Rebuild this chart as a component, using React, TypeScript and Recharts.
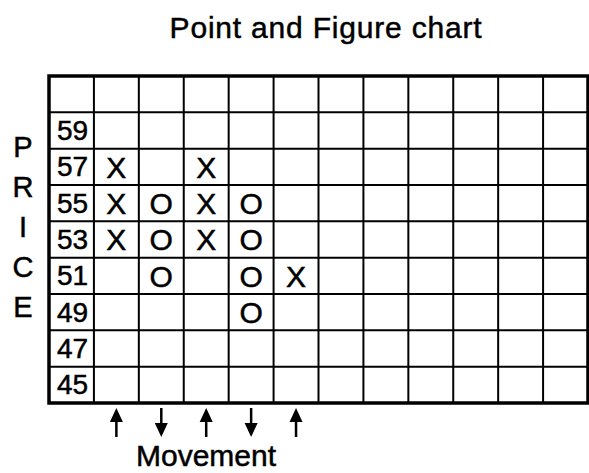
import React from 'react';
import {
  ComposedChart,
  XAxis,
  YAxis,
  CartesianGrid,
  Scatter,
  ReferenceArea,
} from 'recharts';

// ---- data ----
const columnIndex = [1, 2, 3, 4, 5];
const columnMarks = ['X', 'O', 'X', 'O', 'X'];
const columnPrices = [
  [57, 55, 53],
  [55, 53, 51],
  [57, 55, 53],
  [55, 53, 51, 49],
  [51],
];
const movements = ['up', 'down', 'up', 'down', 'up'];
const priceLabels = [59, 57, 55, 53, 51, 49, 47, 45];
const axisLetters = ['P', 'R', 'I', 'C', 'E'];
const gridColumns = [0, 1, 2, 3, 4, 5, 6, 7, 8, 9, 10, 11, 12];
const gridRows = [44, 46, 48, 50, 52, 54, 56, 58, 60, 62];

const markData = columnIndex.flatMap((c, i) =>
  columnPrices[i].map((p) => ({ x: c + 0.5, y: p, mark: columnMarks[i] }))
);
const labelData = priceLabels.map((p) => ({ x: 0.5, y: p, mark: String(p) }));
const arrowData = columnIndex.map((c, i) => ({ x: c + 0.5, y: 0, dir: movements[i] }));

const FONT = '"Liberation Sans", Arial, Helvetica, sans-serif';
const INK = { fill: '#000', stroke: '#000', strokeWidth: 0.5 };

const MarkShape = (props: any) => {
  const { cx, cy, payload } = props;
  return (
    <text x={cx} y={cy + 10.7} textAnchor="middle" fontSize={30} fontFamily={FONT} {...INK}>
      {payload.mark}
    </text>
  );
};

const LabelShape = (props: any) => {
  const { cx, cy, payload } = props;
  return (
    <text x={cx + 1} y={cy + 9.5} textAnchor="middle" fontSize={28} fontFamily={FONT} {...INK}>
      {payload.mark}
    </text>
  );
};

const ArrowShape = (props: any) => {
  const { cx: x, cy: y, payload } = props;
  const hw = 6.5;
  if (payload.dir === 'up') {
    return (
      <g>
        <line x1={x} y1={y + 16} x2={x} y2={y + 34} stroke="#000" strokeWidth={2.5} />
        <polygon points={`${x},${y + 5} ${x - hw},${y + 19} ${x + hw},${y + 19}`} fill="#000" />
      </g>
    );
  }
  return (
    <g>
      <line x1={x} y1={y + 5} x2={x} y2={y + 23} stroke="#000" strokeWidth={2.5} />
      <polygon points={`${x},${y + 34} ${x - hw},${y + 20} ${x + hw},${y + 20}`} fill="#000" />
    </g>
  );
};

export default function App() {
  return (
    <div style={{ position: 'absolute', left: 0, top: 0, background: '#fff' }}>
      <ComposedChart width={589} height={473} margin={{ top: 76, right: 1, bottom: 70, left: 49 }}>
        <XAxis
          xAxisId="grid"
          dataKey="x"
          type="number"
          domain={[0, 12]}
          ticks={gridColumns}
          allowDataOverflow
          hide
          height={0}
        />
        <XAxis xAxisId="arrowX" dataKey="x" type="number" domain={[0, 12]} hide height={0} />
        <YAxis
          yAxisId="grid"
          dataKey="y"
          type="number"
          domain={[44, 62]}
          ticks={gridRows}
          allowDataOverflow
          hide
          width={0}
        />
        <YAxis yAxisId="arrowY" dataKey="y" type="number" domain={[0, 1]} hide width={0} />
        <CartesianGrid xAxisId="grid" yAxisId="grid" stroke="#000" strokeWidth={2} />
        <ReferenceArea
          xAxisId="grid"
          yAxisId="grid"
          x1={0}
          x2={12}
          y1={44}
          y2={62}
          fill="none"
          fillOpacity={0}
          stroke="#000"
          strokeWidth={3.5}
          ifOverflow="visible"
        />
        <Scatter
          xAxisId="grid"
          yAxisId="grid"
          data={labelData}
          shape={<LabelShape />}
          isAnimationActive={false}
        />
        <Scatter
          xAxisId="grid"
          yAxisId="grid"
          data={markData}
          shape={<MarkShape />}
          isAnimationActive={false}
        />
        <Scatter
          xAxisId="arrowX"
          yAxisId="arrowY"
          data={arrowData}
          shape={<ArrowShape />}
          isAnimationActive={false}
        />
        <text x={326} y={38} textAnchor="middle" fontSize={30} fontFamily={FONT} letterSpacing={0.8} {...INK}>
          Point and Figure chart
        </text>
        <text x={206} y={466} textAnchor="middle" fontSize={30} fontFamily={FONT} {...INK}>
          Movement
        </text>
        {axisLetters.map((l, i) => (
          <text
            key={l + i}
            x={23}
            y={157 + i * 40}
            textAnchor="middle"
            fontSize={29}
            fontFamily={FONT}
            {...INK}
          >
            {l}
          </text>
        ))}
      </ComposedChart>
    </div>
  );
}
